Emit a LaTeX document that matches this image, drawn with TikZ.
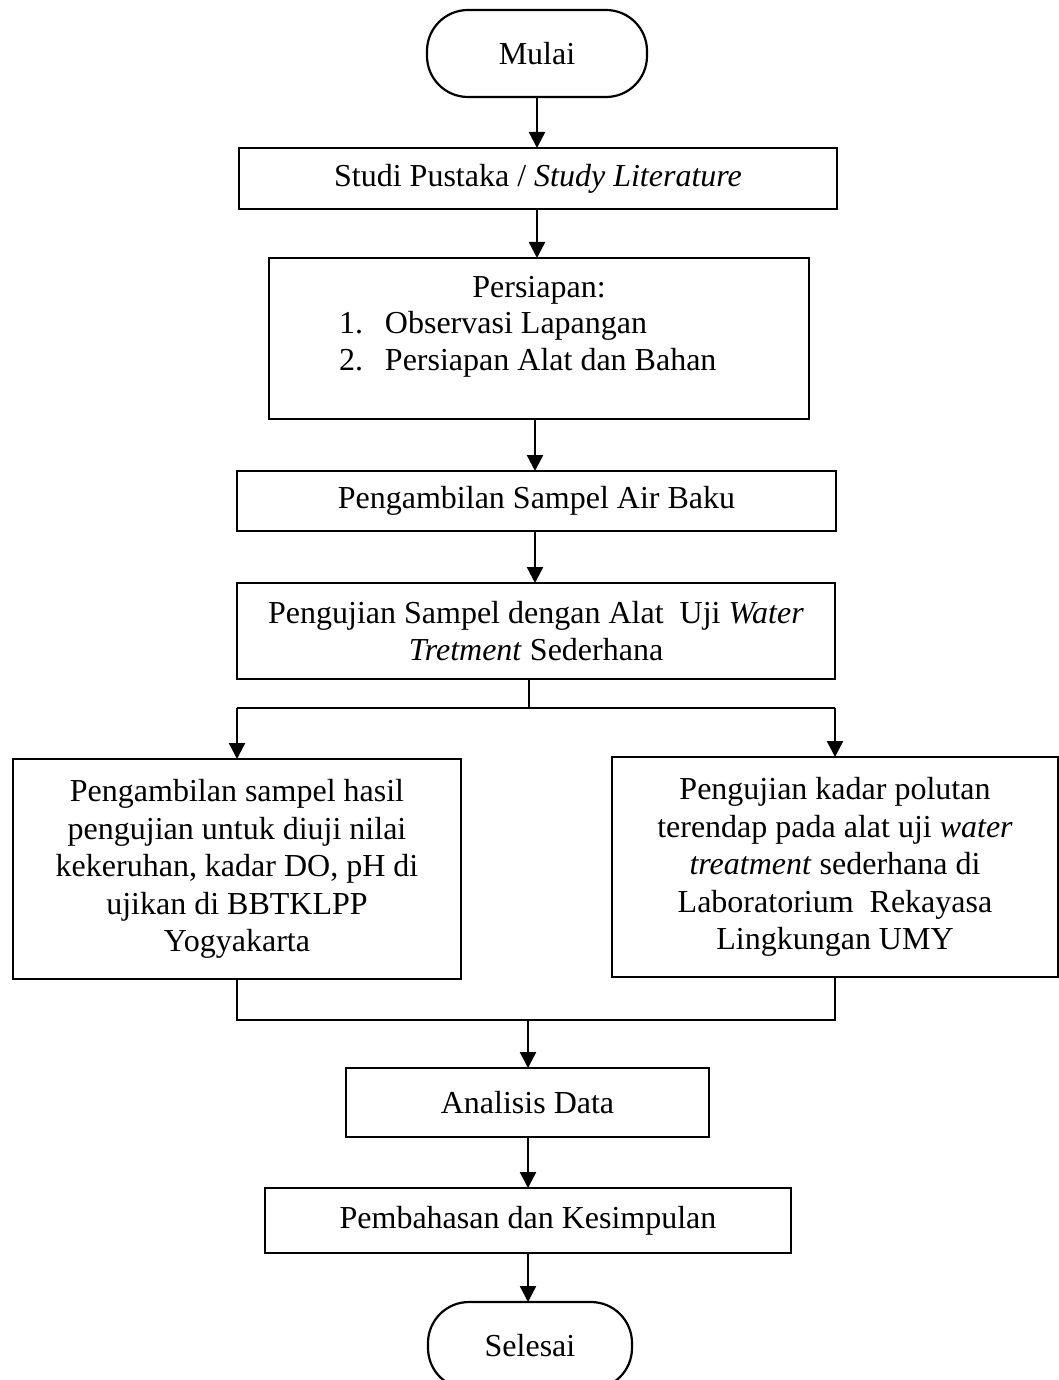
\documentclass[tikz,border=0pt]{standalone}
\usepackage{fontspec}
\setmainfont{Liberation Serif}
\usetikzlibrary{arrows.meta}
\begin{document}
\begin{tikzpicture}[x=1pt,y=-1pt,
  every node/.style={font=\fontsize{32}{37.5}\selectfont, inner sep=0pt, outer sep=0pt},
  box/.style={draw, line width=2.6pt, rectangle, align=center},
  term/.style={draw, line width=2.2pt, rounded corners=41pt, align=center},
  arr/.style={line width=2.4pt, -{Triangle[length=16pt,width=16pt]}},
  ln/.style={line width=2.6pt}]
\useasboundingbox (0,0) rectangle (1059,1380);

\node[term, minimum width=220pt, minimum height=87pt] (start) at (537,53.5) {Mulai};
\node[box, minimum width=598pt, minimum height=61pt] (study) at (538,178.5) {Studi Pustaka / \textit{Study Literature}};
\node[box, minimum width=540pt, minimum height=161pt] (prep) at (539,338.5) {};
\node[anchor=base] (preptitle) at (539,297) {Persiapan:};
\node[anchor=base west] (item1) at (339,333) {\makebox[46pt][l]{1.}Observasi Lapangan};
\node[anchor=base west] (item2) at (339,370) {\makebox[46pt][l]{2.}Persiapan Alat dan Bahan};
\node[box, minimum width=599pt, minimum height=60pt] (sample) at (536.5,501) {Pengambilan Sampel Air Baku};
\node[box, minimum width=598pt, minimum height=96pt] (test) at (536,631) {Pengujian Sampel dengan Alat\ \ Uji \textit{Water}\\\textit{Tretment} Sederhana};

\node[box, minimum width=448pt, minimum height=220pt] (left) at (237,869) {Pengambilan sampel hasil\\pengujian untuk diuji nilai\\kekeruhan, kadar DO, pH di\\ujikan di BBTKLPP\\Yogyakarta};
\node[box, minimum width=446pt, minimum height=220pt] (right) at (835,867) {Pengujian kadar polutan\\terendap pada alat uji \textit{water}\\\textit{treatment} sederhana di\\Laboratorium\ \ Rekayasa\\Lingkungan UMY};

\node[box, minimum width=363pt, minimum height=69pt] (anal) at (527.5,1102.5) {Analisis Data};
\node[box, minimum width=526pt, minimum height=65pt] (disc) at (528,1220.5) {Pembahasan dan Kesimpulan};
\node[term, minimum width=204pt, minimum height=87pt] (finish) at (530,1345.5) {Selesai};

\coordinate (c1) at (537,0);
\coordinate (c2) at (535,0);
\coordinate (sp) at (529,708);
\coordinate (mg) at (528,1020);

\draw[arr] (start.south -| c1) -- (study.north -| c1);
\draw[arr] (study.south -| c1) -- (prep.north -| c1);
\draw[arr] (prep.south -| c2) -- (sample.north -| c2);
\draw[arr] (sample.south -| c2) -- (test.north -| c2);
\draw[ln] (test.south -| sp) -- (sp);
\draw[ln] (left.north |- sp) -- (right.north |- sp);
\draw[arr] (left.north |- sp) -- (left.north);
\draw[arr] (right.north |- sp) -- (right.north);
\draw[ln] (left.south) -- (left.south |- mg) -- (right.south |- mg) -- (right.south);
\draw[arr] (mg) -- (anal.north -| mg);
\draw[arr] (anal.south -| mg) -- (disc.north -| mg);
\draw[arr] (disc.south -| mg) -- (finish.north -| mg);
\end{tikzpicture}
\end{document}
